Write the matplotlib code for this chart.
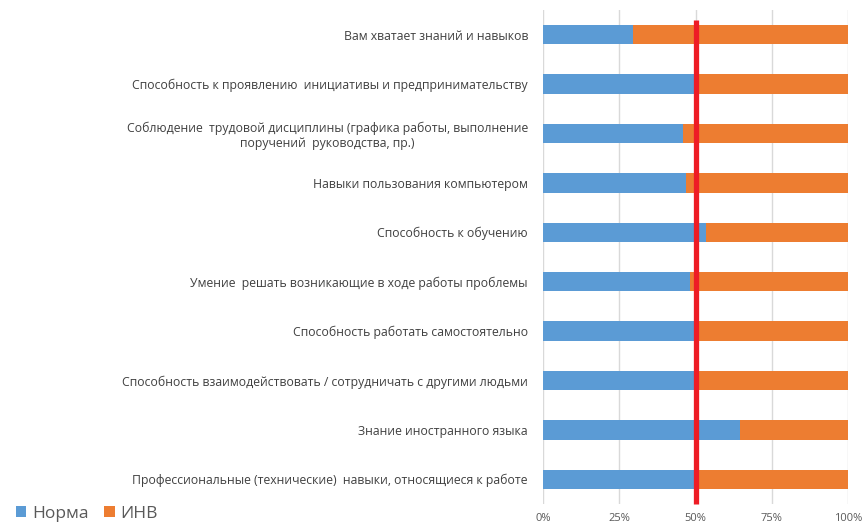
import matplotlib
matplotlib.use("Agg")
import matplotlib.pyplot as plt
import numpy as np

categories = [
    "Вам хватает знаний и навыков",
    "Способность к проявлению  инициативы и предпринимательству",
    "Соблюдение  трудовой дисциплины (графика работы, выполнение\nпоручений  руководства, пр.)",
    "Навыки пользования компьютером",
    "Способность к обучению",
    "Умение  решать возникающие в ходе работы проблемы",
    "Способность работать самостоятельно",
    "Способность взаимодействовать / сотрудничать с другими людьми",
    "Знание иностранного языка",
    "Профессиональные (технические)  навыки, относящиеся к работе",
]
norma = [29.5, 49.5, 46.0, 47.0, 53.3, 48.2, 51.2, 51.2, 64.6, 49.8]
inv = [100 - v for v in norma]
series_names = ["Норма", "ИНВ"]
xticks = [0, 25, 50, 75, 100]
xticklabels = ["0%", "25%", "50%", "75%", "100%"]
ref_value = 50

plt.rcParams['font.family'] = ['Open Sans', 'DejaVu Sans']

fig = plt.figure(figsize=(8.63, 5.28), dpi=100)
ax = fig.add_axes([543/863, 1 - 504/528, (848-543)/863, 494/528])

y = np.arange(len(categories))
c_blue = "#5B9BD5"
c_orange = "#ED7D31"
ax.barh(y, norma, height=0.39, color=c_blue, label=series_names[0], zorder=2)
ax.barh(y, inv, left=norma, height=0.39, color=c_orange, label=series_names[1], zorder=2)

ax.set_ylim(len(categories) - 0.5, -0.5)
ax.set_xlim(0, 100)
ax.set_xticks(xticks)
ax.set_xticklabels(xticklabels, fontsize=8.0, color="#595959")
ax.set_yticks(y)
ax.set_yticklabels(categories, fontsize=8.8, color="#404040")
for t in ax.get_yticklabels():
    t.set_multialignment("center")
ax.tick_params(axis="y", length=0, pad=10.8)
ax.tick_params(axis="x", length=0, pad=6.5)
ax.grid(axis="x", color="#D9D9D9", linewidth=1, zorder=0)
for s in ax.spines.values():
    s.set_visible(False)

ax.plot([ref_value, ref_value], [-0.3, len(categories) - 0.5], color="#EE1C25",
        linewidth=3.8, solid_capstyle="butt", zorder=3, clip_on=False)

fig.legend(loc="lower left", bbox_to_anchor=(0.0, -0.018), ncol=2, frameon=False,
           fontsize=12.5, handlelength=0.6, handleheight=0.6, handletextpad=0.35,
           columnspacing=0.9, labelcolor="#595959")

fig.savefig("out.png", dpi=100)
